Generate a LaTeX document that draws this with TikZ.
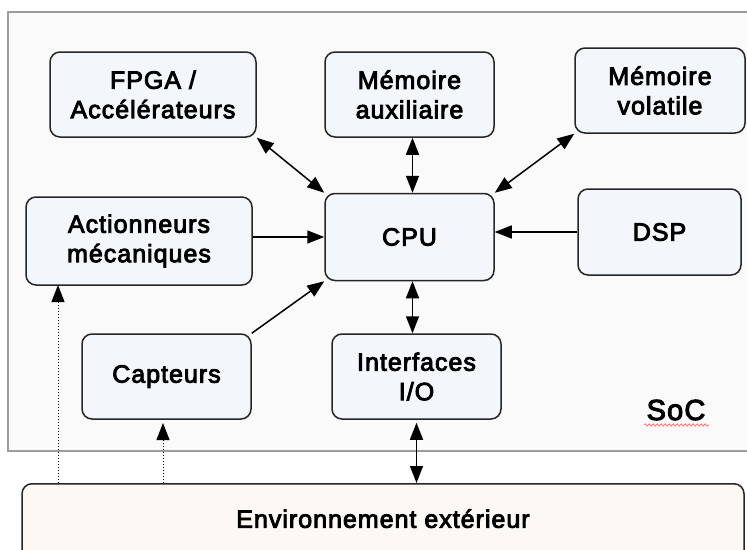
\documentclass[tikz,border=0pt]{standalone}
\usepackage{fontspec}
\setmainfont{Liberation Sans}[LetterSpace=4, FakeBold=3.5]
\usetikzlibrary{positioning}
\usetikzlibrary{arrows.meta}
\usetikzlibrary{decorations.pathmorphing}
\definecolor{socfill}{HTML}{FAFAFA}
\definecolor{socline}{HTML}{9C9C9C}
\definecolor{blocfill}{HTML}{F3F6FA}
\definecolor{envfill}{HTML}{FDF8F4}
\tikzset{
	every node/.style = {font=\fontsize{25}{29.5}\selectfont},
	bloc/.style = {draw=black!85, line width=1.5pt, rounded corners=10pt, fill=blocfill, align=center, inner sep=0pt},
	pointe/.tip = {Triangle[length=17pt, width=13pt]},
	lien/.style = {line width=1.5pt, -pointe},
	liens/.style = {line width=1.5pt, pointe-pointe},
	pointille/.style = {line width=1pt, dotted, -pointe}
}

\begin{document}
\begin{tikzpicture}[x=1pt, y=-1pt]
		\useasboundingbox (0,0) rectangle (747,549);
		% SoC
		\draw[draw=socline, fill=socfill, line width=1.3pt] (8,12) rectangle (770,451);
		\node (soc) at (676,410) {\fontsize{29}{34}\selectfont SoC};
		\draw[red!65, line width=0.6pt, decorate, decoration={snake, amplitude=1.2pt, segment length=4pt}] (644,425) -- (709,425);
		% blocs
		\node[bloc, minimum width=206pt, minimum height=85pt] (fpga) at (153,94.5) {FPGA /\\Accélérateurs};
		\node[bloc, minimum width=169pt, minimum height=85pt] (aux) at (409.5,94.5) {Mémoire\\auxiliaire};
		\node[bloc, minimum width=170pt, minimum height=85pt] (vol) at (660,90.5) {Mémoire\\volatile};
		\node[bloc, minimum width=226pt, minimum height=88pt] (act) at (139,241) {Actionneurs\\mécaniques};
		\node[bloc, minimum width=169pt, minimum height=87pt] (cpu) at (409.5,237) {CPU};
		\node[bloc, minimum width=163pt, minimum height=86pt] (dsp) at (659.5,232) {DSP};
		\node[bloc, minimum width=169pt, minimum height=85pt] (cap) at (166.5,376.5) {Capteurs};
		\node[bloc, minimum width=169pt, minimum height=85pt] (io) at (416.5,376.5) {Interfaces\\I/O};
		% environnement
		\node[bloc, fill=envfill, anchor=north, minimum width=722pt, text height=44pt, text depth=40pt] (env) at (383,483) {Environnement extérieur};
		\coordinate (p1) at (58,285);
		\coordinate (p2) at (163,423);
		% liens vers le CPU
		\foreach \a/\b in {fpga.south east/cpu.north west, vol.south west/cpu.north east}
			\draw[liens] (\a) -- (\b);
		\draw[liens] ([xshift=3pt]aux.south) -- ([xshift=3pt]cpu.north);
		\draw[liens] ([xshift=3pt]cpu.south) -- ([xshift=3pt]cpu.south |- io.north);
		\draw[lien] (act.east |- cpu.west) -- (cpu.west);
		\draw[lien] (dsp.west) -- (cpu.east |- dsp.west);
		\draw[lien] (cap.north east) -- (cpu.south west);
		% liens vers l'exterieur
		\draw[liens] ([yshift=-3pt]io.south) -- (io.south |- env.north);
		\foreach \p in {p1, p2}
			\draw[pointille] (env.north -| \p) -- (\p);
	\end{tikzpicture}
\end{document}
